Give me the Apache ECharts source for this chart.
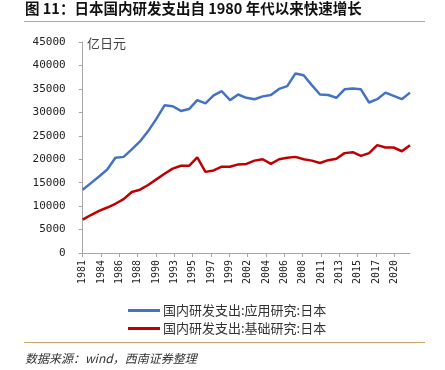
<!DOCTYPE html>
<html>
<head>
<meta charset="utf-8">
<script src="https://cdn.jsdelivr.net/npm/echarts@6/dist/echarts.min.js"></script>
<style>
html,body{margin:0;padding:0;background:#fff;}
#chart{width:445px;height:370px;}
</style>
</head>
<body>
<div id="chart"></div>
<script>
const years = ['1981','1982','1983','1984','1985','1986','1987','1988','1989','1990',
  '1991','1992','1993','1994','1995','1996','1997','1998','1999','2000',
  '2001','2002','2003','2004','2005','2006','2007','2008','2009','2010',
  '2011','2012','2013','2014','2015','2016','2017','2018','2019','2020','2021'];
const applied = [13500,14900,16300,17800,20300,20500,22100,23800,26000,28600,
  31500,31300,30300,30700,32600,31900,33600,34500,32600,33800,
  33100,32800,33400,33700,35000,35600,38300,37900,35800,33800,
  33700,33100,34900,35100,34900,32100,32800,34200,33500,32800,34200];
const basic = [7100,8100,9000,9700,10500,11500,13000,13500,14500,15700,
  16900,18000,18600,18600,20400,17300,17600,18400,18400,18900,
  19000,19700,20000,19000,20000,20300,20500,20000,19700,19200,
  19800,20100,21300,21500,20700,21300,23000,22500,22500,21700,23000];
const xTickLabels = ['1981','1984','1986','1988','1990','1993','1995','1997','1999',
  '2002','2004','2006','2008','2011','2013','2015','2017','2020'];
const yTickLabels = ['0','5000','10000','15000','20000','25000','30000','35000','40000','45000'];
const tickStep = 2.24; // label spacing (in years) used by the source's date axis
const seriesNames = ['国内研发支出:应用研究:日本','国内研发支出:基础研究:日本'];

const tickPos = xTickLabels.map((_, k) => +(k * tickStep).toFixed(2));
const toPairs = arr => arr.map((v, i) => [i, v]);

const chart = echarts.init(document.getElementById('chart'));
chart.setOption({
  animation: false,
  backgroundColor: '#fff',
  grid: {left: 82.7, right: 35, top: 42, bottom: 117},
  xAxis: {
    type: 'value', min: 0, max: years.length - 1,
    axisLine: {show: true, lineStyle: {color: '#a6a6a6', width: 1}},
    axisTick: {show: true, length: 4, lineStyle: {color: '#a6a6a6'}, customValues: tickPos},
    splitLine: {show: false},
    axisLabel: {
      customValues: tickPos, rotate: 90, margin: 7,
      fontFamily: 'DejaVu Sans Mono', fontSize: 10, color: '#222',
      formatter: v => xTickLabels[Math.round(v / tickStep)]
    }
  },
  yAxis: {
    type: 'value', min: 0, max: 45000, interval: 5000,
    axisLine: {show: true, lineStyle: {color: '#a6a6a6', width: 1}},
    axisTick: {show: true, length: 4, lineStyle: {color: '#a6a6a6'}},
    splitLine: {show: false},
    axisLabel: {
      margin: 17, fontFamily: 'DejaVu Sans Mono', fontSize: 11, color: '#222',
      formatter: v => yTickLabels[Math.round(v / 5000)]
    }
  },
  legend: {
    orient: 'vertical', left: 123, top: 299, itemWidth: 32, itemHeight: 3, itemGap: 5,
    icon: 'rect',
    textStyle: {fontFamily: 'Noto Sans CJK SC', fontSize: 13, color: '#333', padding: [0,0,0,-2]},
    data: seriesNames
  },
  series: [
    {name: seriesNames[0], type: 'line', data: toPairs(applied), showSymbol: false,
     lineStyle: {color: '#4472C4', width: 2.5}, itemStyle: {color: '#4472C4'}},
    {name: seriesNames[1], type: 'line', data: toPairs(basic), showSymbol: false,
     lineStyle: {color: '#C00000', width: 2.5}, itemStyle: {color: '#C00000'}}
  ],
  graphic: {
    elements: [
      {type: 'rect', id: 'ruleTop', x: 24, y: 21, z: 20, shape: {x: 0, y: 0, width: 401, height: 1}, style: {fill: '#C9A46A'}},
      {type: 'rect', id: 'ruleBottom', x: 24, y: 342, z: 20, shape: {x: 0, y: 0, width: 401, height: 1}, style: {fill: '#C9A46A'}},
      {type: 'text', id: 'title', x: 25, y: 1, z: 10, style: {text: '图 11：日本国内研发支出自 1980 年代以来快速增长',
        font: 'bold 14.5px "Noto Sans CJK SC"', fill: '#111'}},
      {type: 'text', id: 'unit', x: 87, y: 37, style: {text: '亿日元', font: '13px "Noto Sans CJK SC"', fill: '#444'}},
      {type: 'text', id: 'source', x: 25, y: 352, style: {text: '数据来源：wind，西南证券整理',
        font: 'italic 12px "Noto Sans CJK SC"', fill: '#333'}}
    ]
  }
});
</script>
</body>
</html>
